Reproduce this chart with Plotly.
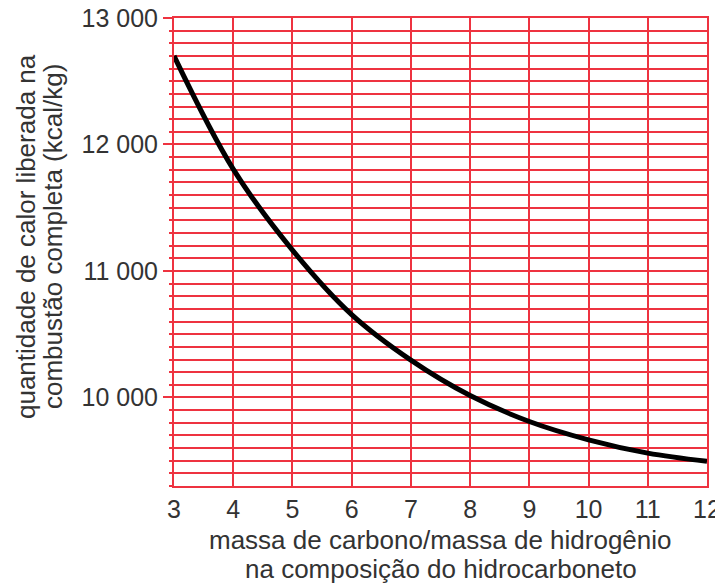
import plotly.graph_objects as go

ratio = [3, 4, 5, 6, 7, 8, 9, 10, 11, 12]
heat = [12700, 11805, 11165, 10655, 10295, 10015, 9810, 9665, 9560, 9495]
y_tick_vals = [10000, 11000, 12000, 13000]
y_tick_text = ["10 000", "11 000", "12 000", "13 000"]
x_tick_vals = [3, 4, 5, 6, 7, 8, 9, 10, 11, 12]

RED = "#EE3340"
TXT = "#333333"
FONT = "Liberation Sans, Arial, sans-serif"
FS = 25
FT = 26

fig = go.Figure()
fig.add_trace(go.Scatter(
    x=ratio, y=heat, mode="lines",
    line=dict(color="black", width=5, shape="spline", smoothing=1.0),
    showlegend=False, hoverinfo="skip",
))

# the page body adds an 8px offset, so the figure is 8px smaller in each direction
fig.update_layout(
    width=715, height=577,
    margin=dict(l=166, r=16, t=10, b=99),
    paper_bgcolor="white", plot_bgcolor="white",
    font=dict(family=FONT, size=FS, color=TXT),
    xaxis=dict(
        range=[3, 12], tickvals=x_tick_vals, ticks="", showgrid=True,
        gridcolor=RED, gridwidth=2, zeroline=False, automargin=False,
        showline=True, linecolor=RED, linewidth=2, mirror=True,
        ticklabeloverflow="allow",
        tickfont=dict(size=FS, color=TXT, family=FONT),
    ),
    yaxis=dict(
        range=[9300, 13000], tickvals=y_tick_vals, ticktext=y_tick_text,
        ticks="outside", ticklen=9, tickwidth=2, tickcolor=RED,
        showgrid=True, gridcolor=RED, gridwidth=2, zeroline=False, automargin=False,
        showline=True, linecolor=RED, linewidth=2, mirror=True,
        ticklabeloverflow="allow",
        tickfont=dict(size=FS, color=TXT, family=FONT),
        minor=dict(dtick=100, tick0=9300, showgrid=True, gridcolor=RED, gridwidth=2,
                   ticks="outside", ticklen=3, tickwidth=2, tickcolor=RED),
    ),
)

for txt, ys in [("massa de carbono/massa de hidrogênio", -54),
                ("na composição do hidrocarboneto", -83)]:
    fig.add_annotation(
        text=txt, xref="paper", yref="paper", x=0.5, y=0, yshift=ys,
        yanchor="middle", showarrow=False,
        font=dict(size=FT, color=TXT, family=FONT),
    )

for txt, xs in [("quantidade de calor liberada na", -148),
                ("combustão completa (kcal/kg)", -121)]:
    fig.add_annotation(
        text=txt, xref="paper", yref="paper", x=0, xshift=xs, y=0.532,
        xanchor="center", yanchor="middle", textangle=-90, showarrow=False,
        font=dict(size=FT, color=TXT, family=FONT),
    )

fig.write_html("out.html")
